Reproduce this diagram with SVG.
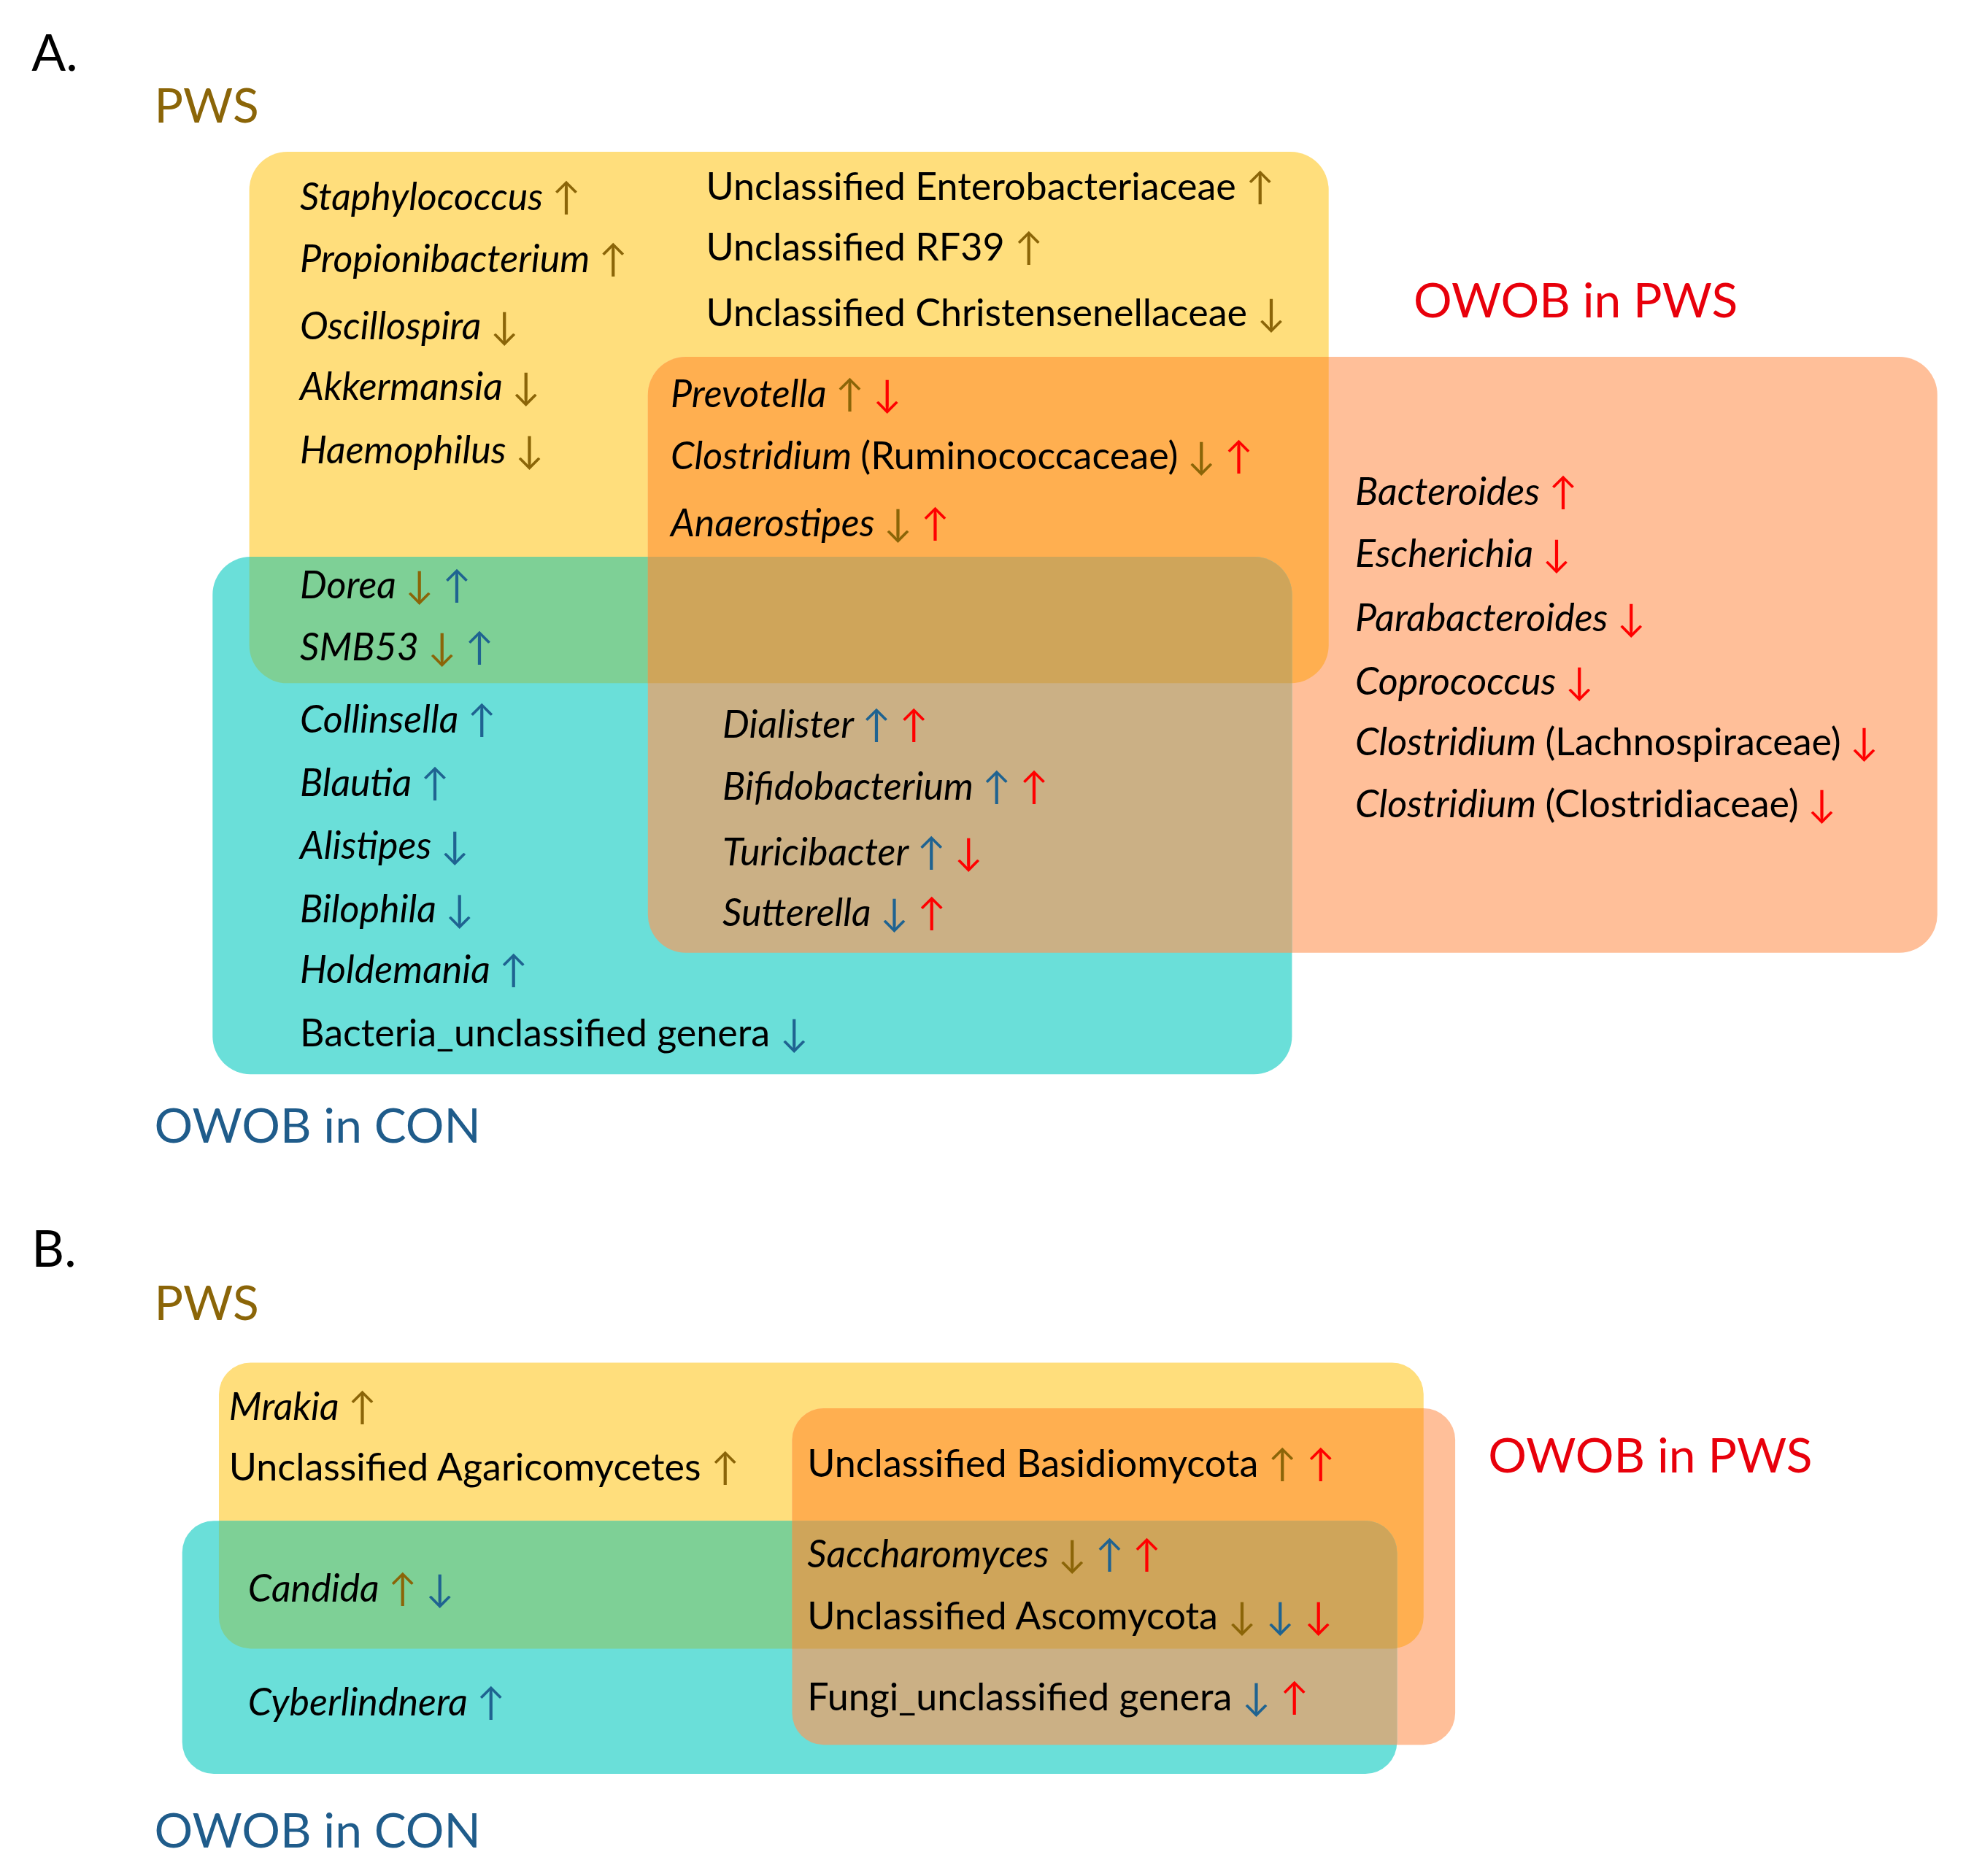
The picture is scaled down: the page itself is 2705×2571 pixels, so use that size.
<svg xmlns="http://www.w3.org/2000/svg" width="2705" height="2571" viewBox="0 0 2705 2571">
<style>
text{font-family:Lato,"Liberation Sans","DejaVu Sans",sans-serif;font-size:30px;fill:#000}
.i{font-style:italic}.n{font-style:normal}
.g{fill:#8B6508;font-style:normal}.b{fill:#1F6391;font-style:normal}.r{fill:#FF0000;font-style:normal}
.h{font-size:38px}
</style>
<defs>
<clipPath id="cSa"><rect x="512" y="282" width="1019" height="471" rx="30"/></clipPath>
<clipPath id="cCa"><rect x="168" y="440" width="853" height="409" rx="30"/></clipPath>
<clipPath id="cSb"><rect x="626" y="1113" width="524" height="266" rx="25"/></clipPath>
<clipPath id="cCb"><rect x="144" y="1202" width="960" height="200" rx="25"/></clipPath>
</defs>
<rect width="2705" height="2571" fill="#fff"/>
<g transform="scale(1.734)">
<g id="vennA">
<rect x="197" y="120" width="853" height="420" rx="30" fill="#FFDE7C"/>
<rect x="512" y="282" width="1019" height="471" rx="30" fill="#FFBF99"/>
<rect x="168" y="440" width="853" height="409" rx="30" fill="#6ADFD9"/>
<rect x="197" y="120" width="853" height="420" rx="30" fill="#FFAF50" clip-path="url(#cSa)"/>
<rect x="197" y="120" width="853" height="420" rx="30" fill="#7ED096" clip-path="url(#cCa)"/>
<g clip-path="url(#cCa)"><rect x="512" y="282" width="1019" height="471" rx="30" fill="#CBB085"/>
<g clip-path="url(#cSa)"><rect x="197" y="120" width="853" height="420" rx="30" fill="#CFA55A"/></g></g>
</g>
<g id="labelsA">
<text x="25" y="56" style="font-size:40px">A.</text>
<text x="122" y="97" class="h" fill="#8B6508" style="fill:#8B6508">PWS</text>
<text x="1117" y="251" class="h" style="fill:#E8000B">OWOB in PWS</text>
<text x="122" y="903" class="h" style="fill:#1F5C8B">OWOB in CON</text>
</g>
<g id="textsA">
<text x="237" y="166" class="i">Staphylococcus <tspan class="g">↑</tspan></text>
<text x="237" y="215" class="i">Propionibacterium <tspan class="g">↑</tspan></text>
<text x="237" y="268" class="i">Oscillospira <tspan class="g">↓</tspan></text>
<text x="237" y="316" class="i">Akkermansia <tspan class="g">↓</tspan></text>
<text x="237" y="366" class="i">Haemophilus <tspan class="g">↓</tspan></text>
<text x="237" y="473" class="i">Dorea <tspan class="g">↓</tspan> <tspan class="b">↑</tspan></text>
<text x="237" y="522" class="i">SMB53 <tspan class="g">↓</tspan> <tspan class="b">↑</tspan></text>
<text x="237" y="579" class="i">Collinsella <tspan class="b">↑</tspan></text>
<text x="237" y="629" class="i">Blautia <tspan class="b">↑</tspan></text>
<text x="237" y="679" class="i">Alistipes <tspan class="b">↓</tspan></text>
<text x="237" y="729" class="i">Bilophila <tspan class="b">↓</tspan></text>
<text x="237" y="777" class="i">Holdemania <tspan class="b">↑</tspan></text>
<text x="237" y="827">Bacteria_unclassified genera <tspan class="b">↓</tspan></text>
<text x="558" y="158">Unclassified Enterobacteriaceae <tspan class="g">↑</tspan></text>
<text x="558" y="206">Unclassified RF39 <tspan class="g">↑</tspan></text>
<text x="558" y="258">Unclassified Christensenellaceae <tspan class="g">↓</tspan></text>
<text x="530" y="322" class="i">Prevotella <tspan class="g">↑</tspan> <tspan class="r">↓</tspan></text>
<text x="530" y="371" class="i">Clostridium <tspan class="n">(Ruminococcaceae)</tspan> <tspan class="g">↓</tspan> <tspan class="r">↑</tspan></text>
<text x="530" y="424" class="i">Anaerostipes <tspan class="g">↓</tspan> <tspan class="r">↑</tspan></text>
<text x="571" y="583" class="i">Dialister <tspan class="b">↑</tspan> <tspan class="r">↑</tspan></text>
<text x="571" y="632" class="i">Bifidobacterium <tspan class="b">↑</tspan> <tspan class="r">↑</tspan></text>
<text x="571" y="684" class="i">Turicibacter <tspan class="b">↑</tspan> <tspan class="r">↓</tspan></text>
<text x="571" y="732" class="i">Sutterella <tspan class="b">↓</tspan> <tspan class="r">↑</tspan></text>
<text x="1071" y="399" class="i">Bacteroides <tspan class="r">↑</tspan></text>
<text x="1071" y="448" class="i">Escherichia <tspan class="r">↓</tspan></text>
<text x="1071" y="499" class="i">Parabacteroides <tspan class="r">↓</tspan></text>
<text x="1071" y="549" class="i">Coprococcus <tspan class="r">↓</tspan></text>
<text x="1071" y="597" class="i">Clostridium <tspan class="n">(Lachnospiraceae)</tspan> <tspan class="r">↓</tspan></text>
<text x="1071" y="646" class="i">Clostridium <tspan class="n">(Clostridiaceae)</tspan> <tspan class="r">↓</tspan></text>
</g>
<g id="vennB">
<rect x="173" y="1077" width="952" height="226" rx="25" fill="#FFDE7C"/>
<rect x="626" y="1113" width="524" height="266" rx="25" fill="#FFBF99"/>
<rect x="144" y="1202" width="960" height="200" rx="25" fill="#6ADFD9"/>
<rect x="173" y="1077" width="952" height="226" rx="25" fill="#FFAF50" clip-path="url(#cSb)"/>
<rect x="173" y="1077" width="952" height="226" rx="25" fill="#7ED096" clip-path="url(#cCb)"/>
<g clip-path="url(#cCb)"><rect x="626" y="1113" width="524" height="266" rx="25" fill="#CBB085"/>
<g clip-path="url(#cSb)"><rect x="173" y="1077" width="952" height="226" rx="25" fill="#CFA55A"/></g></g>
</g>
<g id="labelsB">
<text x="25" y="1001" style="font-size:40px">B.</text>
<text x="122" y="1043" class="h" style="fill:#8B6508">PWS</text>
<text x="1176" y="1164" class="h" style="fill:#E8000B">OWOB in PWS</text>
<text x="122" y="1460" class="h" style="fill:#1F5C8B">OWOB in CON</text>
</g>
<g id="textsB">
<text x="181" y="1122" class="i">Mrakia <tspan class="g">↑</tspan></text>
<text x="181" y="1170">Unclassified Agaricomycetes <tspan class="g">↑</tspan></text>
<text x="196" y="1266" class="i">Candida <tspan class="g">↑</tspan> <tspan class="b">↓</tspan></text>
<text x="196" y="1356" class="i">Cyberlindnera <tspan class="b">↑</tspan></text>
<text x="638" y="1167">Unclassified Basidiomycota <tspan class="g">↑</tspan> <tspan class="r">↑</tspan></text>
<text x="638" y="1239" class="i">Saccharomyces <tspan class="g">↓</tspan> <tspan class="b">↑</tspan> <tspan class="r">↑</tspan></text>
<text x="638" y="1288">Unclassified Ascomycota <tspan class="g">↓</tspan> <tspan class="b">↓</tspan> <tspan class="r">↓</tspan></text>
<text x="638" y="1352">Fungi_unclassified genera <tspan class="b">↓</tspan> <tspan class="r">↑</tspan></text>
</g>
</g>
</svg>
